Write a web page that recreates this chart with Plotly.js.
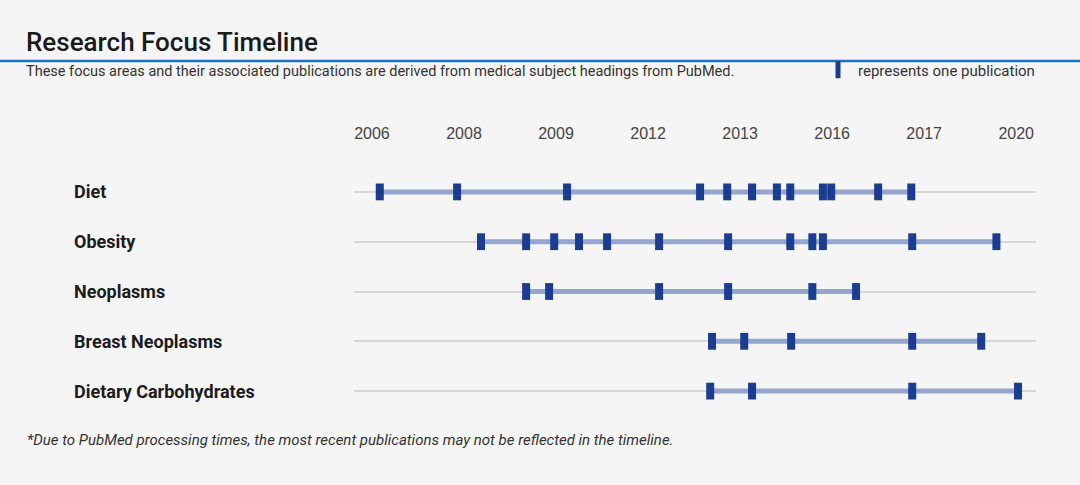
<!DOCTYPE html>
<html>
<head>
<meta charset="utf-8">
<script src="https://cdn.plot.ly/plotly-3.0.1.min.js"></script>
<style>
  html, body { margin: 0; padding: 0; background: #f5f5f5; }
  #chart { width: 1080px; height: 485px; }
</style>
</head>
<body>
<div id="chart"></div>
<script>
// ---- data (decimal years) ----
const categories = ["Diet", "Obesity", "Neoplasms", "Breast Neoplasms", "Dietary Carbohydrates"];
const dietPubs = [2006.17, 2007.85, 2010.24, 2013.13, 2013.72, 2014.26, 2014.80, 2015.09, 2015.80, 2015.98, 2017.00, 2017.72];
const obesityPubs = [2008.37, 2009.35, 2009.96, 2010.50, 2011.11, 2012.24, 2013.74, 2015.09, 2015.57, 2015.80, 2017.74, 2019.57];
const neoplasmsPubs = [2009.35, 2009.85, 2012.24, 2013.74, 2015.57, 2016.52];
const breastNeoplasmsPubs = [2013.39, 2014.09, 2015.11, 2017.74, 2019.24];
const dietaryCarbPubs = [2013.35, 2014.26, 2017.74, 2020.04];
const tickValues = [2006, 2008, 2010, 2012, 2014, 2016, 2018, 2020];
const tickLabels = ["2006", "2008", "2009", "2012", "2013", "2016", "2017", "2020"];

const pubsByCategory = [dietPubs, obesityPubs, neoplasmsPubs, breastNeoplasmsPubs, dietaryCarbPubs];

const traces = [];
// span lines
categories.forEach((cat, i) => {
  const p = pubsByCategory[i];
  traces.push({
    type: "scatter", mode: "lines",
    x: [Math.min(...p), Math.max(...p)],
    y: [cat, cat],
    line: { color: "#95a5cd", width: 5 },
    hoverinfo: "skip", showlegend: false
  });
});
// publication markers (one trace, also used for the legend)
const mx = [], my = [];
categories.forEach((cat, i) => {
  pubsByCategory[i].forEach(v => { mx.push(v); my.push(cat); });
});
traces.push({
  type: "scatter", mode: "markers",
  x: mx, y: my,
  name: "represents one publication",
  marker: { symbol: "line-ns", size: 12, line: { color: "#1a3d91", width: 8 } },
  hoverinfo: "x", showlegend: true
});

const annotations = categories.map(cat => ({
  text: cat, xref: "paper", yref: "y", x: (72 - 354) / 682, y: cat,
  xanchor: "left", yanchor: "middle", showarrow: false,
  font: { family: "Roboto, Liberation Sans, sans-serif", size: 18, color: "#1c1c1c", weight: 700 }
}));
annotations.push({
  text: "These focus areas and their associated publications are derived from medical subject headings from PubMed.",
  xref: "paper", yref: "paper", x: (24 - 354) / 682, y: (416 - 71) / 249,
  xanchor: "left", yanchor: "middle", showarrow: false,
  font: { family: "Roboto, Liberation Sans, sans-serif", size: 14.5, color: "#333" }
});
annotations.push({
  text: "<i>*Due to PubMed processing times, the most recent publications may not be reflected in the timeline.</i>",
  xref: "paper", yref: "paper", x: (25 - 354) / 682, y: (416 - 440) / 249,
  xanchor: "left", yanchor: "middle", showarrow: false,
  font: { family: "Roboto, Liberation Sans, sans-serif", size: 15, color: "#333" }
});

const layout = {
  width: 1080, height: 485,
  paper_bgcolor: "#f5f5f5", plot_bgcolor: "#f5f5f5",
  margin: { l: 354, r: 44, t: 167, b: 69 },
  title: {
    text: "Research Focus Timeline",
    xref: "container", yref: "container", x: 26 / 1080, y: 1 - 42 / 485,
    xanchor: "left", yanchor: "middle",
    font: { family: "Roboto, Liberation Sans, sans-serif", size: 26, color: "#1a1a1a", weight: 500 }
  },
  xaxis: {
    type: "linear", range: [2005.61, 2020.43], side: "top",
    tickvals: tickValues, ticktext: tickLabels,
    showgrid: false, zeroline: false, showline: false,
    ticks: "outside", ticklen: 21, tickcolor: "rgba(0,0,0,0)",
    tickfont: { family: "Liberation Sans, Arial, sans-serif", size: 16, color: "#444" },
    fixedrange: true
  },
  yaxis: {
    type: "category", categoryarray: categories, range: [4.5, -0.5],
    showgrid: true, gridcolor: "#d6d6d6", gridwidth: 2,
    showticklabels: false, zeroline: false, showline: false, ticks: "",
    fixedrange: true
  },
  showlegend: true,
  legend: {
    x: (818 - 354) / 682, y: (416 - 70) / 249, xanchor: "left", yanchor: "middle",
    orientation: "h", bgcolor: "rgba(0,0,0,0)",
    font: { family: "Roboto, Liberation Sans, sans-serif", size: 15, color: "#333" }
  },
  shapes: [{
    type: "line", xref: "paper", yref: "paper",
    x0: -354 / 682, x1: (1080 - 354) / 682, y0: (416 - 61) / 249, y1: (416 - 61) / 249,
    line: { color: "#1f73c4", width: 2.5 }
  }],
  annotations: annotations
};

Plotly.newPlot("chart", traces, layout, { displayModeBar: false, staticPlot: false });
</script>
</body>
</html>
